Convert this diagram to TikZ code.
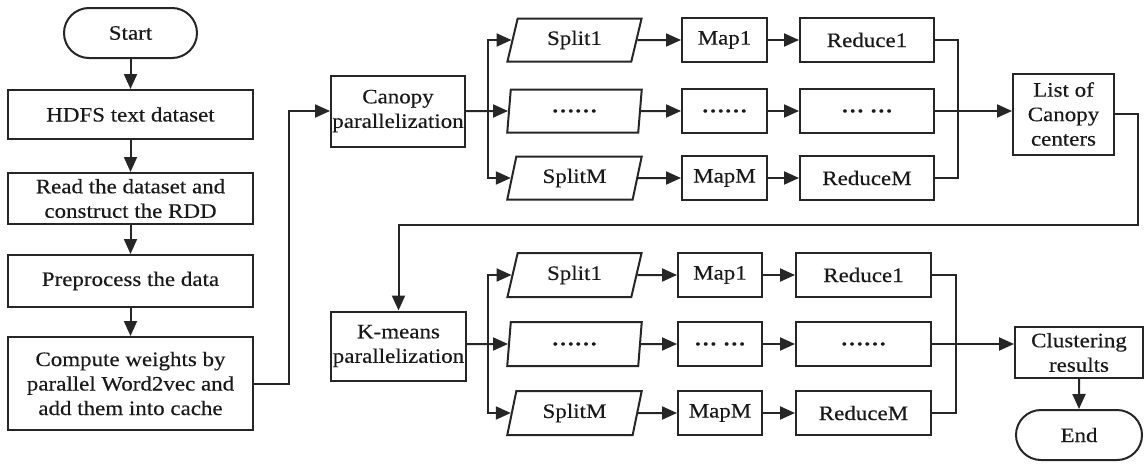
\documentclass[tikz,border=0pt]{standalone}
\usepackage{fontspec}
\setmainfont[FakeStretch=1.12,FakeBold=0.35]{Liberation Serif}
\usetikzlibrary{shapes.geometric,shapes.misc,arrows.meta}

\begin{document}
\begin{tikzpicture}[x=1pt,y=-1pt,
  box/.style={draw=black!85, line width=2pt, rectangle, align=center,
    inner sep=1pt, text=black!90, font=\fontsize{20.5}{24.5}\selectfont},
  term/.style={box, rounded rectangle},
  para/.style={box, trapezium, trapezium left angle=76,
    trapezium right angle=104, trapezium stretches=true},
  dots/.style={font=\fontsize{20.5}{24.5}\selectfont\bfseries},
  link/.style={draw=black!85, line width=2pt},
  arr/.style={link, -{Triangle[length=15pt,width=13pt]}}
]
\useasboundingbox (0,0) rectangle (1145,463);

% main chain on the left
\node[term, minimum width=135, minimum height=50] (start) at (130.5,33) {Start};
\node[box, minimum width=245, minimum height=49] (hdfs) at (130.5,114.5) {HDFS text dataset};
\node[box, minimum width=245, minimum height=51] (read) at (130.5,198.5) {Read the dataset and\\construct the RDD};
\node[box, minimum width=245, minimum height=52] (prep) at (130.5,281) {Preprocess the data};
\node[box, minimum width=245, minimum height=93] (comp) at (130.5,383.5) {Compute weights by\\parallel Word2vec and\\add them into cache};

\draw[arr] (start) -- (hdfs);
\draw[arr] (hdfs) -- (read);
\draw[arr] (read) -- (prep);
\draw[arr] (prep) -- (comp);

% Canopy stage
\node[box, minimum width=134, minimum height=71] (canopy) at (398,111) {Canopy\\parallelization};
\coordinate (up) at (289,111);
\draw[arr] (comp.east) -| (up) -- (canopy.west);

\foreach \n/\y/\s/\m/\r in {1/40/Split1/Map1/Reduce1, 2/111/\textbf{……}/\textbf{……}/\textbf{… …}, 3/178/SplitM/MapM/ReduceM}{
  \node[para, minimum width=135, minimum height=43] (cs\n) at (574.5,\y) {\s};
  \node[box, minimum width=85, minimum height=44] (cm\n) at (724.5,\y) {\m};
  \node[box, minimum width=134, minimum height=44] (cr\n) at (867,\y) {\r};
  \draw[arr] (cs\n) -- (cm\n);
  \draw[arr] (cm\n) -- (cr\n);
}
\coordinate (cfork) at (488,111);
\draw[arr] (canopy.east) -- (cs2);
\draw[arr] (cfork) |- (cs1);
\draw[arr] (cfork) |- (cs3);

\node[box, minimum width=101, minimum height=81] (list) at (1063.5,114) {List of\\Canopy\\centers};
\coordinate (cjoin) at (958,111);
\draw[link] (cr1.east) -| (cjoin) |- (cr3.east);
\draw[arr] (cr2.east) -- (list.west |- cr2.east);

% K-means stage
\node[box, minimum width=135, minimum height=69] (kmeans) at (398.5,346) {K-means\\parallelization};
\coordinate (back) at (1138,225);
\draw[arr] (list.east) -| (back) -| (kmeans.north);

\foreach \n/\y/\s/\m/\r in {1/275/Split1/Map1/Reduce1, 2/344/\textbf{……}/\textbf{… …}/\textbf{……}, 3/413/SplitM/MapM/ReduceM}{
  \node[para, minimum width=135, minimum height=44] (ks\n) at (574.5,\y) {\s};
  \node[box, minimum width=84, minimum height=44] (km\n) at (720,\y) {\m};
  \node[box, minimum width=135, minimum height=44] (kr\n) at (863.5,\y) {\r};
  \draw[arr] (ks\n) -- (km\n);
  \draw[arr] (km\n) -- (kr\n);
}
\coordinate (kfork) at (488,344);
\draw[arr] (kmeans.east |- kfork) -- (ks2);
\draw[arr] (kfork) |- (ks1);
\draw[arr] (kfork) |- (ks3);

\node[box, minimum width=128, minimum height=51] (clus) at (1079,352.5) {Clustering\\results};
\node[term, minimum width=128, minimum height=50] (end) at (1079,435) {End};
\coordinate (kjoin) at (956,344);
\draw[link] (kr1.east) -| (kjoin) |- (kr3.east);
\draw[arr] (kr2.east) -- (clus.west |- kr2.east);
\draw[arr] (clus) -- (end);
\end{tikzpicture}
\end{document}
